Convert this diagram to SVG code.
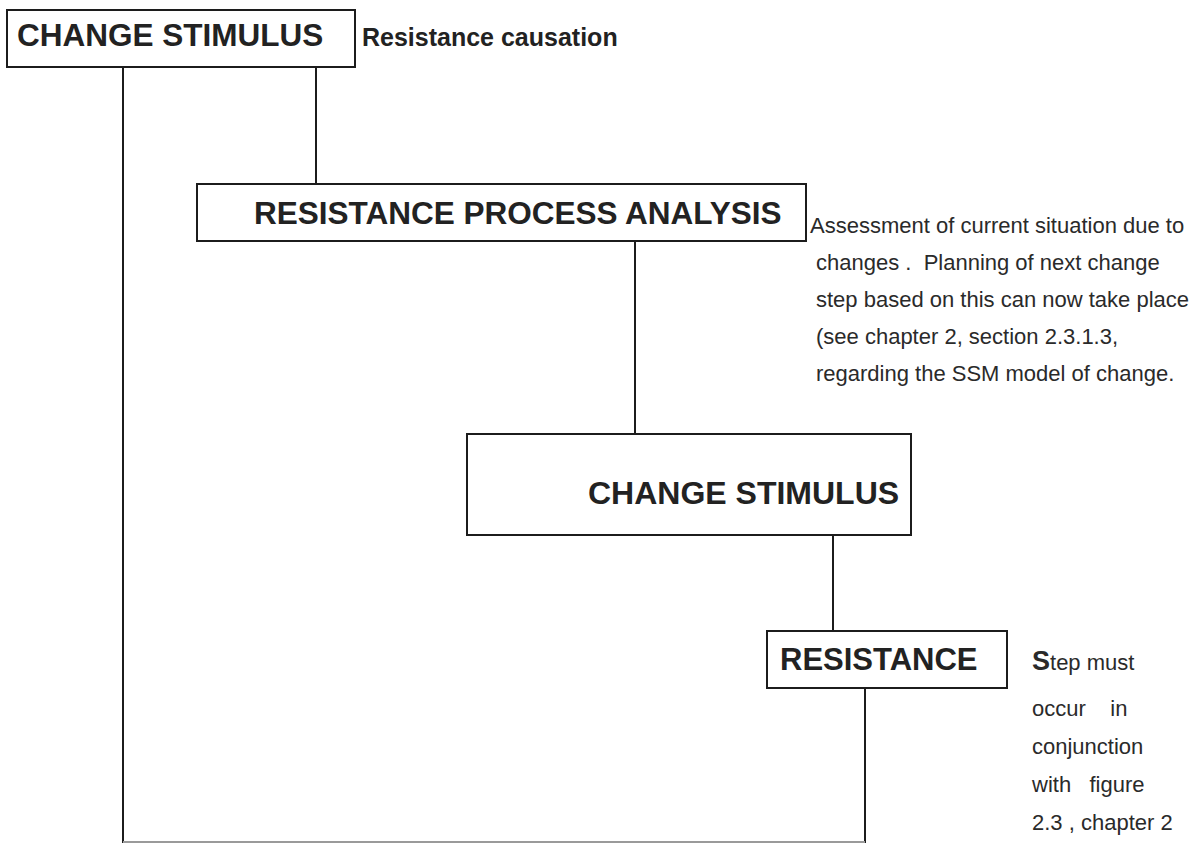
<svg xmlns="http://www.w3.org/2000/svg" width="1198" height="843" viewBox="0 0 1198 843">
  <style>
    .box { fill: #ffffff; stroke: #1c1c1c; stroke-width: 2; }
    .link { stroke: #1c1c1c; stroke-width: 2; fill: none; }
    .base { stroke: #9a9a9a; stroke-width: 2; fill: none; }
    .head { font-family: "Liberation Sans", Arial, sans-serif; font-weight: bold; fill: #222222; }
    .note { font-family: "Liberation Sans", Arial, sans-serif; font-size: 22px; fill: #2a2a2a; }
  </style>
  <rect width="1198" height="843" fill="#ffffff"/>

  <!-- connectors -->
  <g id="connectors">
    <line class="link" x1="123" y1="67" x2="123" y2="843"/>
    <line class="link" x1="316" y1="67" x2="316" y2="184"/>
    <line class="link" x1="635" y1="241" x2="635" y2="434"/>
    <line class="link" x1="833" y1="535" x2="833" y2="631"/>
    <line class="link" x1="865" y1="688" x2="865" y2="843"/>
    <line class="base" x1="123" y1="842" x2="865" y2="842"/>
  </g>

  <!-- top change stimulus -->
  <g id="stimulus-top">
    <rect class="box" x="7" y="10" width="348" height="57"/>
    <text class="head" x="17" y="46" font-size="31.5">CHANGE STIMULUS</text>
  </g>
  <g id="causation-label">
    <text class="head" x="362" y="46" font-size="25">Resistance causation</text>
  </g>

  <!-- resistance process analysis -->
  <g id="analysis">
    <rect class="box" x="197" y="184" width="609" height="57"/>
    <text class="head" x="254" y="224" font-size="31.5">RESISTANCE PROCESS ANALYSIS</text>
  </g>
  <g id="analysis-note">
    <text class="note" x="810" y="233">Assessment of current situation due to</text>
    <text class="note" x="816" y="270" xml:space="preserve">changes .  Planning of next change</text>
    <text class="note" x="816" y="307">step based on this can now take place</text>
    <text class="note" x="816" y="344">(see chapter 2, section 2.3.1.3,</text>
    <text class="note" x="816" y="381">regarding the SSM model of change.</text>
  </g>

  <!-- second change stimulus -->
  <g id="stimulus-second">
    <rect class="box" x="467" y="434" width="444" height="101"/>
    <text class="head" x="588" y="504" font-size="32">CHANGE STIMULUS</text>
  </g>

  <!-- resistance -->
  <g id="resistance">
    <rect class="box" x="767" y="631" width="240" height="57"/>
    <text class="head" x="780" y="670" font-size="31">RESISTANCE</text>
  </g>
  <g id="resistance-note">
    <text class="note" x="1032" y="670"><tspan font-weight="bold" font-size="27">S</tspan>tep must</text>
    <text class="note" x="1032" y="716" xml:space="preserve">occur    in</text>
    <text class="note" x="1032" y="754">conjunction</text>
    <text class="note" x="1032" y="792" xml:space="preserve">with   figure</text>
    <text class="note" x="1032" y="830">2.3 , chapter 2</text>
  </g>
</svg>
